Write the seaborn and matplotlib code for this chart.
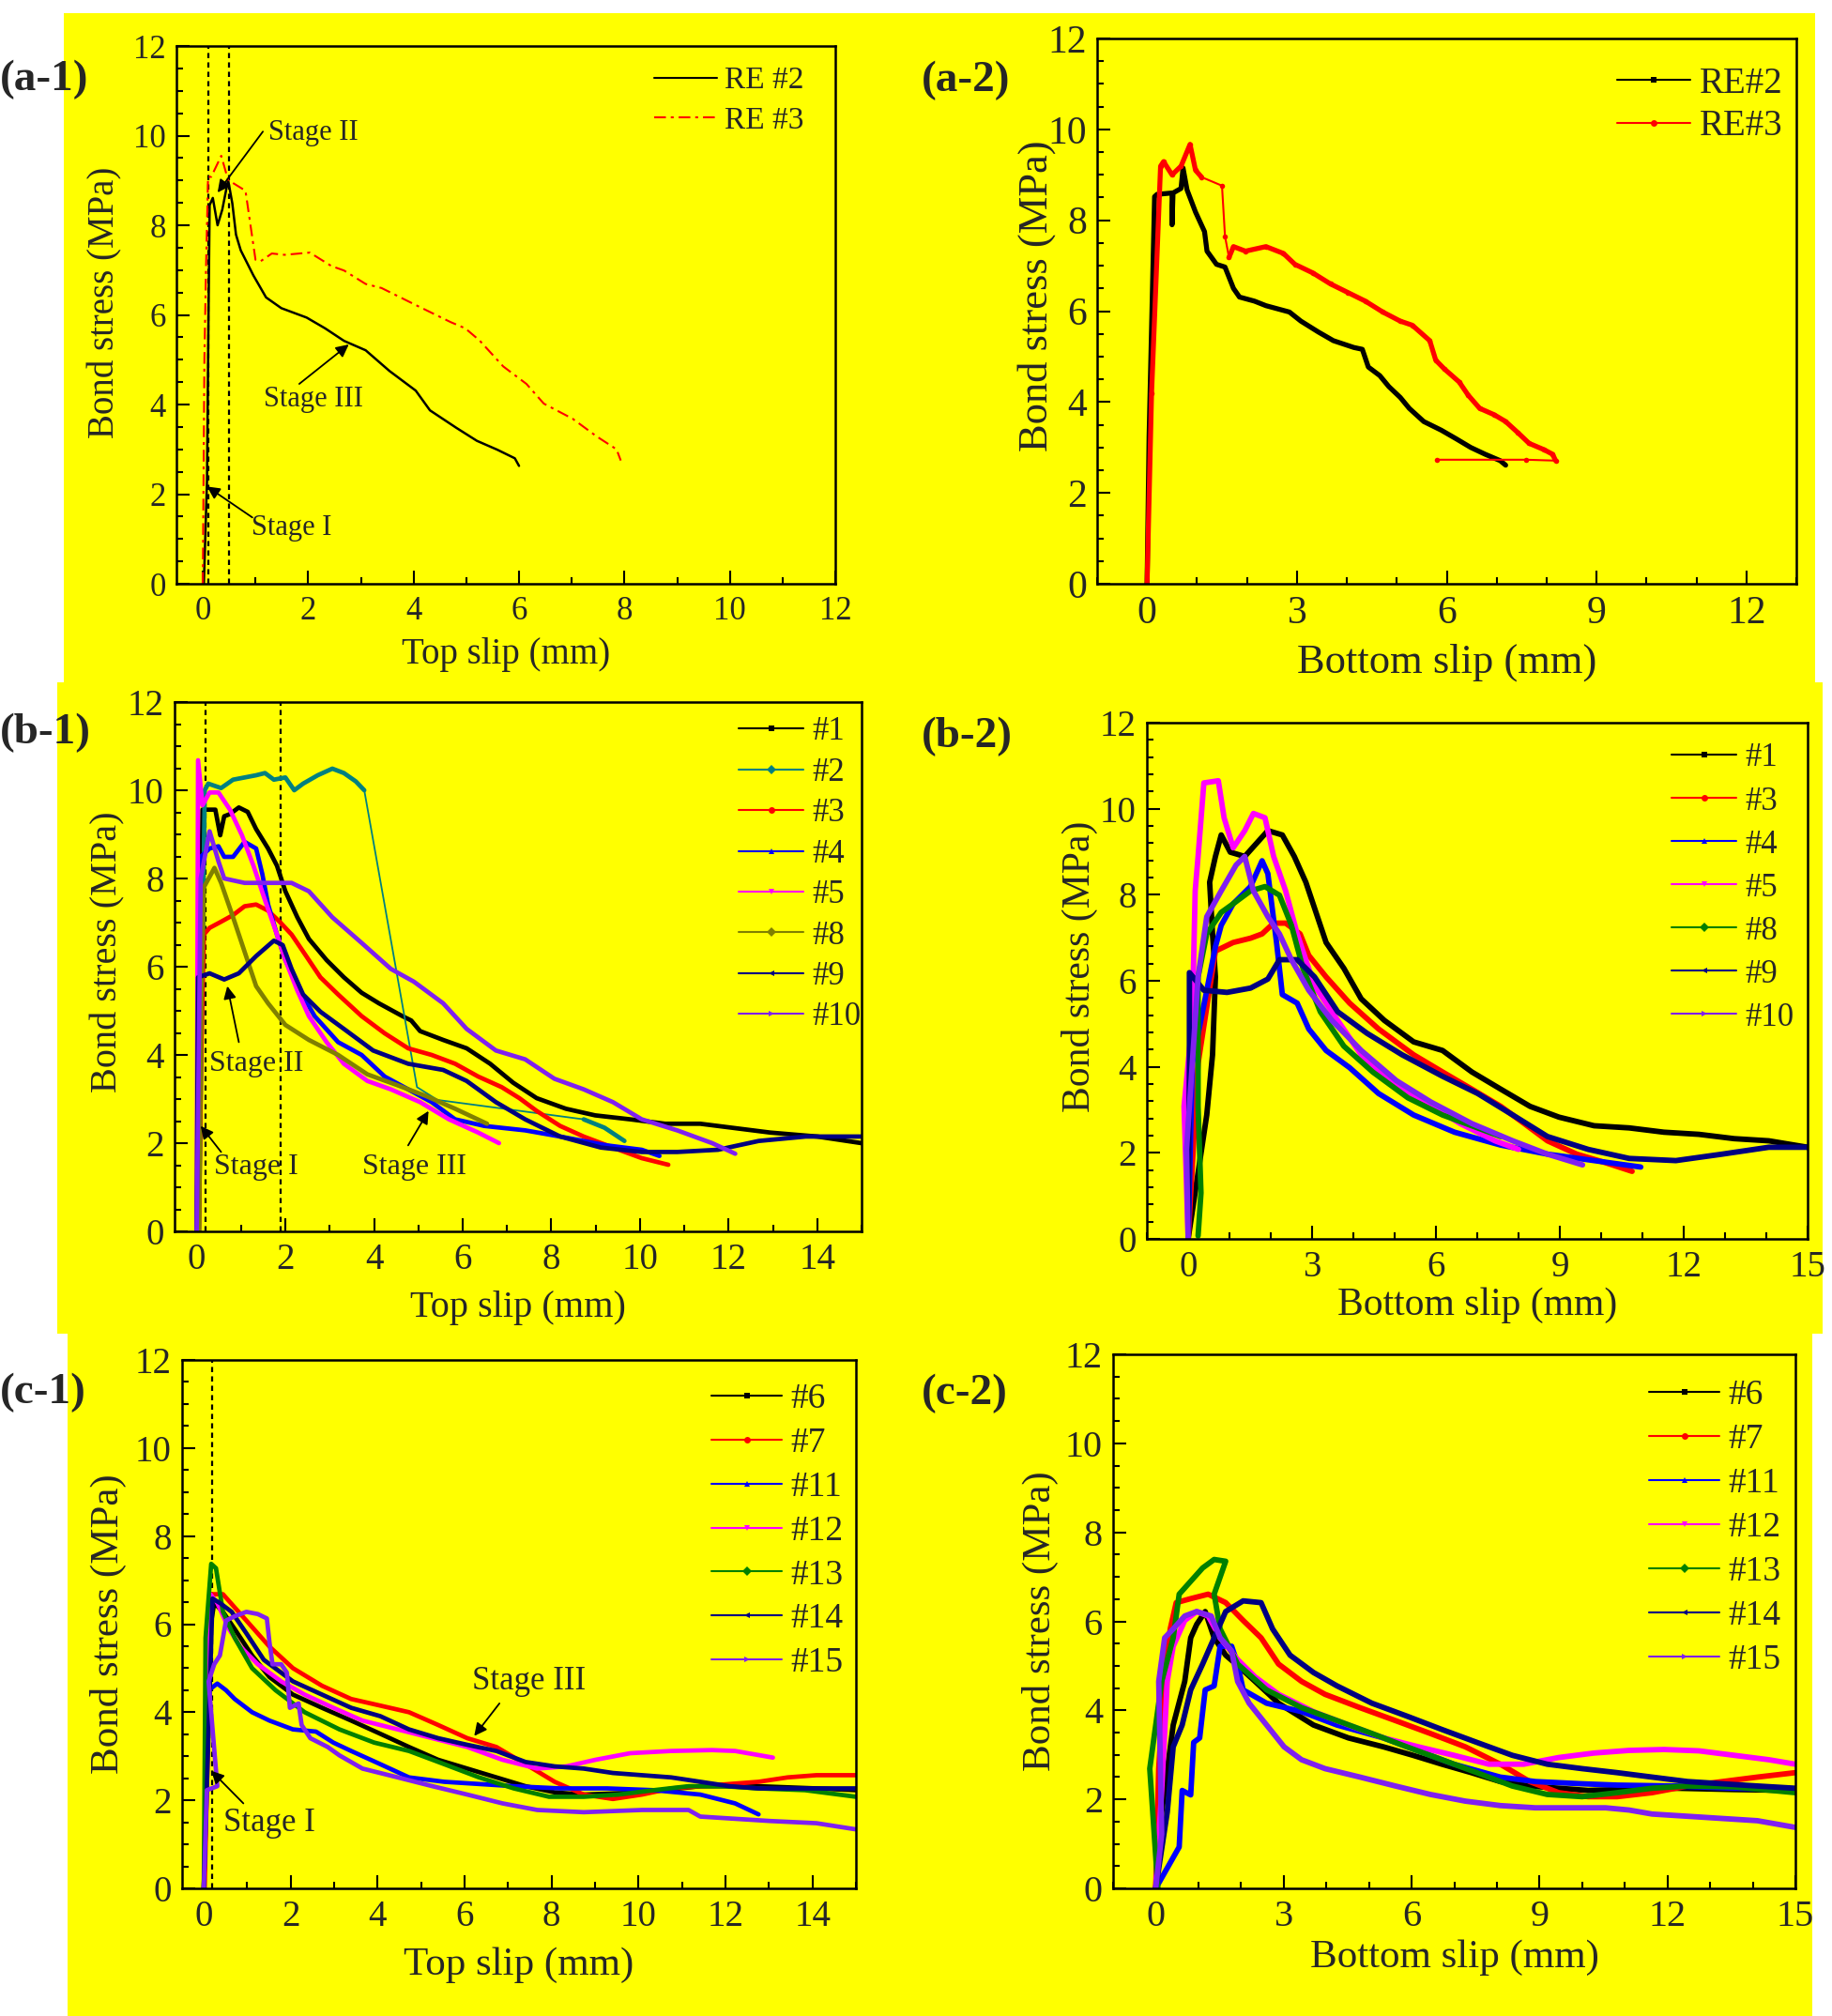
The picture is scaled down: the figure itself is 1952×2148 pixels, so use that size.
import numpy as np
import pandas as pd
import matplotlib
matplotlib.use("Agg")
import matplotlib.pyplot as plt
import seaborn as sns
from matplotlib.lines import Line2D
from matplotlib.patches import Rectangle
from matplotlib.ticker import MultipleLocator

# ---------------- data ----------------
# (a-1) top slip, RE specimens
A1_RE2_X = [0.02, 0.08, 0.11, 0.13, 0.19, 0.28, 0.37, 0.48, 0.56, 0.63, 0.72, 0.96, 1.2, 1.49, 1.97,
            2.32, 2.68, 3.09, 3.54, 4.04, 4.31, 4.81, 5.2, 5.59, 5.92, 6.0]
A1_RE2_Y = [0.0, 2.3, 6.2, 8.45, 8.61, 8.0, 8.35, 9.01, 8.49, 7.79, 7.44, 6.88, 6.39, 6.15, 5.94,
            5.7, 5.42, 5.21, 4.75, 4.31, 3.87, 3.48, 3.19, 2.99, 2.8, 2.63]
A1_RE3_X = [0.0, 0.03, 0.06, 0.1, 0.16, 0.35, 0.48, 0.81, 1.0, 1.1, 1.31, 1.55, 2.03, 2.44, 2.68,
            3.09, 3.39, 4.04, 4.7, 4.98, 5.25, 5.7, 6.14, 6.47, 7.02, 7.47, 7.85, 7.93]
A1_RE3_Y = [0.0, 5.0, 7.0, 9.08, 9.08, 9.55, 9.01, 8.77, 7.23, 7.2, 7.37, 7.34, 7.39, 7.09, 6.99,
            6.69, 6.6, 6.22, 5.84, 5.7, 5.43, 4.85, 4.46, 4.02, 3.68, 3.29, 3.0, 2.75]
A1_STAGES = [0.1, 0.5]
A1_LABELS = ["RE #2", "RE #3"]

# (a-2) bottom slip, RE specimens
A2_RE2_X = [0.0, 0.04, 0.15, 0.2, 0.5, 0.5, 0.52, 0.68, 0.72, 0.8, 0.97, 1.15, 1.2, 1.39, 1.56, 1.73,
            1.85, 2.15, 2.38, 2.85, 3.08, 3.43, 3.73, 4.14, 4.31, 4.43, 4.66, 4.84, 5.07, 5.25, 5.54,
            5.89, 6.19, 6.48, 6.77, 7.07, 7.18]
A2_RE2_Y = [0.0, 3.24, 8.52, 8.57, 8.6, 7.9, 8.6, 8.7, 9.15, 8.67, 8.18, 7.75, 7.32, 7.03, 6.97, 6.5,
            6.31, 6.22, 6.12, 5.98, 5.78, 5.54, 5.35, 5.2, 5.16, 4.77, 4.58, 4.34, 4.1, 3.86, 3.57,
            3.38, 3.19, 3.0, 2.85, 2.71, 2.61]
A2_RE3_X = [0.0, 0.09, 0.27, 0.33, 0.5, 0.68, 0.86, 0.97, 1.09, 1.5, 1.56, 1.64, 1.73, 1.97, 2.38,
            2.73, 2.96, 3.32, 3.67, 4.02, 4.37, 4.72, 5.07, 5.31, 5.66, 5.78, 5.95, 6.25, 6.43, 6.66,
            6.95, 7.18, 7.42, 7.65, 7.95, 8.12, 8.18, 7.59, 5.81]
A2_RE3_Y = [0.0, 4.2, 9.19, 9.29, 9.0, 9.19, 9.67, 9.1, 8.95, 8.76, 7.65, 7.18, 7.42, 7.32, 7.42,
            7.27, 7.03, 6.84, 6.6, 6.41, 6.22, 5.98, 5.78, 5.69, 5.35, 4.92, 4.73, 4.44, 4.15, 3.86,
            3.72, 3.57, 3.33, 3.09, 2.95, 2.85, 2.71, 2.73, 2.73]
A2_LABELS = ["RE#2", "RE#3"]

# (b-1) top slip
B1_1_X = [0.0, 0.13, 0.42, 0.53, 0.62, 0.75, 0.95, 1.15, 1.34, 1.61, 1.81, 2.0, 2.27, 2.53, 2.93, 3.32,
          3.72, 4.11, 4.64, 4.84, 5.04, 5.56, 6.09, 6.62, 7.14, 7.67, 8.33, 8.99, 9.78, 10.57, 11.36,
          12.15, 12.94, 14.0, 15.0]
B1_1_Y = [0.0, 9.56, 9.56, 8.98, 9.41, 9.46, 9.61, 9.51, 9.12, 8.68, 8.29, 7.71, 7.12, 6.63, 6.15, 5.76,
          5.41, 5.17, 4.88, 4.78, 4.54, 4.34, 4.15, 3.8, 3.37, 3.02, 2.78, 2.63, 2.54, 2.44, 2.44,
          2.34, 2.24, 2.15, 2.0]
B1_2_X = [0.05, 0.18, 0.26, 0.55, 0.82, 1.08, 1.34, 1.54, 1.74, 2.0, 2.2, 2.4, 2.73, 3.06, 3.32, 3.59,
          3.78, 4.97, 5.43, 8.73, 9.2, 9.65]
B1_2_Y = [0.0, 10.0, 10.15, 10.05, 10.24, 10.29, 10.34, 10.39, 10.24, 10.29, 10.0, 10.15, 10.34, 10.49,
          10.39, 10.2, 10.0, 3.27, 2.98, 2.54, 2.35, 2.05]
B1_3_X = [0.05, 0.1, 0.16, 0.29, 0.55, 0.82, 1.08, 1.34, 1.61, 1.87, 2.14, 2.47, 2.79, 3.19, 3.72, 4.24,
          4.77, 5.3, 5.83, 6.35, 6.88, 7.28, 7.67, 8.2, 8.73, 9.39, 10.04, 10.64]
B1_3_Y = [0.0, 4.0, 6.73, 6.88, 7.02, 7.17, 7.37, 7.41, 7.27, 7.02, 6.73, 6.24, 5.76, 5.37, 4.88, 4.49,
          4.15, 4.0, 3.8, 3.51, 3.27, 3.02, 2.73, 2.39, 2.15, 1.9, 1.66, 1.51]
B1_4_X = [0.03, 0.06, 0.09, 0.29, 0.49, 0.62, 0.82, 1.08, 1.34, 1.48, 1.61, 1.81, 2.0, 2.27, 2.66, 3.19,
          3.72, 4.24, 4.77, 5.3, 5.83, 6.49, 7.41, 8.2, 9.25, 10.04, 10.44]
B1_4_Y = [0.0, 5.0, 8.49, 8.68, 8.73, 8.49, 8.49, 8.83, 8.68, 8.1, 7.41, 6.73, 6.15, 5.56, 4.88, 4.29,
          4.0, 3.51, 3.22, 2.93, 2.54, 2.39, 2.29, 2.15, 1.95, 1.85, 1.71]
B1_5_X = [0.0, 0.03, 0.13, 0.29, 0.49, 0.75, 1.02, 1.28, 1.54, 1.81, 2.0, 2.27, 2.53, 2.93, 3.32, 3.85,
          4.38, 5.04, 5.69, 6.35, 6.82]
B1_5_Y = [0.0, 10.68, 9.66, 9.95, 9.95, 9.56, 8.98, 8.29, 7.51, 6.73, 6.15, 5.46, 4.88, 4.29, 3.8, 3.41,
          3.22, 2.93, 2.54, 2.24, 2.0]
B1_8_X = [0.05, 0.1, 0.16, 0.4, 0.55, 0.82, 1.08, 1.34, 1.61, 2.0, 2.53, 3.19, 3.85, 4.51, 5.17, 5.83, 6.55]
B1_8_Y = [0.0, 5.0, 7.8, 8.24, 7.9, 7.12, 6.34, 5.56, 5.17, 4.68, 4.34, 4.0, 3.56, 3.32, 3.07, 2.78, 2.44]
B1_9_X = [0.0, 0.03, 0.29, 0.62, 0.95, 1.34, 1.74, 1.94, 2.14, 2.4, 2.79, 3.32, 3.98, 4.77, 5.56, 6.09,
          6.75, 7.41, 8.2, 9.12, 10.04, 10.84, 11.76, 12.68, 13.74, 15.0]
B1_9_Y = [0.0, 5.76, 5.85, 5.71, 5.85, 6.24, 6.59, 6.49, 5.95, 5.37, 4.98, 4.59, 4.1, 3.8, 3.66, 3.41,
          2.93, 2.54, 2.15, 1.9, 1.8, 1.8, 1.85, 2.05, 2.15, 2.15]
B1_10_X = [0.0, 0.09, 0.29, 0.49, 0.62, 1.08, 1.74, 2.14, 2.53, 3.06, 3.72, 4.38, 4.9, 5.56, 6.09, 6.75,
           7.41, 8.07, 8.73, 9.39, 10.04, 10.84, 11.63, 12.15]
B1_10_Y = [0.0, 8.0, 9.07, 8.39, 8.0, 7.9, 7.9, 7.9, 7.71, 7.12, 6.54, 5.95, 5.66, 5.17, 4.59, 4.1,
           3.9, 3.46, 3.22, 2.93, 2.54, 2.29, 2.0, 1.76]
B1_STAGES = [0.2, 1.9]
B1_LABELS = ["#1", "#2", "#3", "#4", "#5", "#8", "#9", "#10"]

# (b-2) bottom slip
B2_1_X = [0.0, 0.45, 0.59, 0.66, 0.59, 0.52, 0.66, 0.8, 1.02, 1.37, 1.65, 1.93, 2.28, 2.57, 2.85, 3.06,
          3.34, 3.77, 4.19, 4.75, 5.46, 6.16, 6.87, 7.57, 8.28, 8.98, 9.83, 10.68, 11.52, 12.37, 13.22,
          14.06, 15.0]
B2_1_Y = [0.0, 2.88, 4.28, 6.09, 7.09, 8.29, 8.89, 9.39, 8.99, 8.89, 9.19, 9.49, 9.39, 8.89, 8.29, 7.69,
          6.89, 6.29, 5.58, 5.08, 4.58, 4.38, 3.88, 3.48, 3.08, 2.83, 2.63, 2.58, 2.48, 2.43, 2.33,
          2.28, 2.13]
B2_3_X = [0.0, 0.24, 0.66, 1.09, 1.51, 1.79, 2.07, 2.36, 2.71, 2.92, 3.34, 3.91, 4.61, 5.46, 6.16, 6.87,
          7.57, 8.14, 8.7, 9.41, 10.11, 10.75]
B2_3_Y = [0.0, 4.08, 6.69, 6.89, 6.99, 7.09, 7.34, 7.34, 7.09, 6.59, 6.09, 5.48, 4.88, 4.28, 3.88, 3.48,
          3.08, 2.68, 2.28, 1.97, 1.77, 1.57]
B2_4_X = [0.0, 0.1, 0.66, 0.8, 1.09, 1.51, 1.79, 1.93, 2.14, 2.28, 2.64, 2.92, 3.34, 3.91, 4.61, 5.46,
          6.45, 7.57, 8.7, 9.83, 10.96]
B2_4_Y = [0.0, 4.08, 6.79, 7.29, 7.79, 8.19, 8.79, 8.49, 6.89, 5.68, 5.48, 4.88, 4.38, 3.98, 3.38, 2.88,
          2.48, 2.18, 1.97, 1.82, 1.67]
B2_5_X = [0.0, -0.1, 0.1, 0.17, 0.24, 0.38, 0.73, 0.87, 1.09, 1.37, 1.58, 1.86, 2.07, 2.36, 2.64, 3.06,
          3.62, 4.19, 4.89, 5.74, 6.59, 7.43, 8.0]
B2_5_Y = [0.0, 3.08, 5.08, 8.09, 8.89, 10.6, 10.65, 9.79, 9.09, 9.49, 9.89, 9.79, 8.89, 8.09, 7.09, 5.88,
          5.08, 4.28, 3.68, 3.18, 2.68, 2.28, 2.08]
B2_8_X = [0.24, 0.31, 0.24, 0.24, 0.45, 0.8, 1.09, 1.51, 1.86, 2.21, 2.5, 2.78, 3.2, 3.77, 4.47, 5.32,
          6.16, 7.01, 7.57]
B2_8_Y = [0.07, 1.07, 3.08, 6.09, 7.09, 7.59, 7.79, 8.09, 8.19, 7.99, 7.29, 6.29, 5.28, 4.48, 3.88, 3.28,
          2.88, 2.58, 2.38]
B2_9_X = [0.0, 0.03, 0.03, 0.38, 0.94, 1.51, 1.93, 2.21, 2.64, 3.06, 3.62, 4.33, 5.18, 6.16, 7.01, 7.86,
          8.7, 9.69, 10.68, 11.81, 12.93, 14.06, 15.0]
B2_9_Y = [0.0, 4.08, 6.19, 5.78, 5.73, 5.83, 6.04, 6.49, 6.49, 6.09, 5.28, 4.78, 4.28, 3.78, 3.38, 2.88,
          2.38, 2.08, 1.87, 1.82, 1.97, 2.13, 2.13]
B2_10_X = [0.0, -0.04, 0.1, 0.24, 0.45, 0.8, 1.16, 1.37, 1.58, 1.93, 2.21, 2.5, 2.92, 3.48, 4.19, 5.04,
           5.88, 6.87, 7.86, 8.7, 9.55]
B2_10_Y = [0.0, 2.08, 4.08, 6.09, 7.49, 8.09, 8.69, 8.89, 8.09, 7.49, 7.09, 6.49, 5.78, 5.08, 4.38, 3.68,
           3.18, 2.68, 2.28, 1.97, 1.72]
B2_LABELS = ["#1", "#3", "#4", "#5", "#8", "#9", "#10"]

# (c-1) top slip
C1_6_X = [0.0, 0.11, 0.24, 0.44, 0.71, 1.11, 1.51, 2.05, 2.72, 3.39, 4.06, 4.72, 5.39, 6.06, 6.73, 7.4,
          8.07, 8.74, 10.08, 11.42, 12.76, 14.09, 15.0]
C1_6_Y = [0.0, 5.69, 6.48, 6.28, 5.89, 5.29, 4.8, 4.4, 4.1, 3.81, 3.51, 3.21, 2.92, 2.72, 2.52, 2.32,
          2.18, 2.13, 2.18, 2.32, 2.32, 2.27, 2.23]
C1_7_X = [0.02, 0.17, 0.44, 0.98, 1.51, 2.05, 2.72, 3.39, 4.06, 4.72, 5.39, 6.06, 6.73, 7.4, 8.07, 8.74,
          9.41, 10.08, 10.75, 11.42, 12.09, 12.76, 13.43, 14.09, 15.0]
C1_7_Y = [0.0, 6.68, 6.68, 6.08, 5.49, 5.0, 4.6, 4.3, 4.15, 4.0, 3.71, 3.41, 3.21, 2.82, 2.42, 2.13,
          2.03, 2.13, 2.27, 2.32, 2.37, 2.42, 2.52, 2.57, 2.57]
C1_11_X = [0.0, 0.11, 0.31, 0.51, 0.71, 1.11, 1.51, 2.05, 2.58, 2.98, 3.39, 4.06, 4.72, 5.53, 6.33, 7.13,
           8.2, 9.28, 10.35, 11.42, 12.22, 12.76]
C1_11_Y = [0.0, 4.5, 4.65, 4.5, 4.3, 4.0, 3.81, 3.61, 3.56, 3.31, 3.12, 2.82, 2.52, 2.42, 2.37, 2.32,
           2.27, 2.27, 2.23, 2.13, 1.93, 1.68]
C1_12_X = [0.0, 0.15, 0.31, 0.58, 0.84, 1.24, 1.78, 2.32, 2.98, 3.65, 4.46, 5.26, 6.06, 6.87, 7.67, 8.34,
           9.01, 9.81, 10.75, 11.69, 12.22, 13.09]
C1_12_Y = [0.0, 6.68, 6.48, 5.89, 5.49, 5.09, 4.7, 4.4, 4.1, 3.81, 3.61, 3.41, 3.21, 2.92, 2.72, 2.77,
           2.92, 3.07, 3.12, 3.14, 3.12, 2.97]
C1_13_X = [0.0, 0.04, 0.17, 0.28, 0.44, 0.71, 1.11, 1.65, 2.32, 3.12, 3.92, 4.72, 5.53, 6.33, 7.13, 7.94,
           8.74, 9.54, 10.35, 11.15, 11.95, 12.76, 13.83, 15.0]
C1_13_Y = [0.0, 5.69, 7.37, 7.27, 6.28, 5.69, 5.0, 4.5, 4.0, 3.61, 3.31, 3.12, 2.82, 2.52, 2.27, 2.08,
           2.08, 2.13, 2.23, 2.32, 2.32, 2.27, 2.23, 2.08]
C1_14_X = [0.0, 0.2, 0.37, 0.64, 0.98, 1.38, 2.05, 2.72, 3.39, 4.06, 4.72, 5.39, 6.06, 6.73, 7.4, 8.07,
           8.74, 9.41, 10.08, 10.75, 11.42, 12.09, 12.76, 14.09, 15.0]
C1_14_Y = [0.0, 6.58, 6.48, 6.28, 5.79, 5.19, 4.7, 4.4, 4.1, 3.91, 3.61, 3.41, 3.26, 3.12, 2.87, 2.77,
           2.72, 2.62, 2.57, 2.52, 2.42, 2.32, 2.27, 2.27, 2.27]
C1_15_X = [0.0, 0.07, 0.31, 0.11, 0.24, 0.37, 0.51, 0.71, 0.98, 1.24, 1.45, 1.51, 1.58, 1.78, 1.91, 1.98,
           2.18, 2.25, 2.45, 2.85, 3.12, 3.65, 4.46, 5.26, 6.06, 6.87, 7.67, 8.74, 10.08, 11.15, 11.42,
           12.22, 13.02, 14.09, 15.0]
C1_15_Y = [0.0, 2.23, 2.32, 4.7, 5.09, 5.29, 6.08, 6.18, 6.28, 6.23, 6.13, 5.59, 5.09, 5.09, 4.9, 4.1,
           4.2, 3.71, 3.41, 3.21, 3.02, 2.72, 2.52, 2.32, 2.13, 1.93, 1.78, 1.73, 1.78, 1.78, 1.63,
           1.58, 1.53, 1.48, 1.34]
C1_STAGES = [0.2]
C_LABELS = ["#6", "#7", "#11", "#12", "#13", "#14", "#15"]

# (c-2) bottom slip
C2_6_X = [0.0, 0.14, 0.41, 0.68, 0.82, 0.96, 1.16, 1.37, 1.64, 1.99, 2.33, 2.88, 3.7, 4.52, 5.34, 6.03,
          6.71, 7.4, 8.08, 8.77, 9.45, 10.14, 10.82, 12.19, 13.56, 15.0]
C2_6_Y = [0.0, 1.71, 3.67, 4.65, 5.63, 5.93, 6.22, 5.63, 5.24, 4.95, 4.65, 4.16, 3.67, 3.38, 3.18, 2.99,
          2.79, 2.6, 2.4, 2.3, 2.25, 2.2, 2.22, 2.25, 2.22, 2.2]
C2_7_X = [0.0, 0.07, 0.21, 0.34, 0.48, 0.82, 1.23, 1.64, 2.05, 2.47, 2.88, 3.42, 3.97, 4.79, 5.62, 6.44,
          7.26, 8.08, 8.77, 9.45, 10.14, 10.82, 11.64, 12.47, 13.29, 14.11, 15.0]
C2_7_Y = [0.0, 2.69, 4.85, 5.83, 6.42, 6.51, 6.61, 6.42, 6.02, 5.63, 5.04, 4.65, 4.36, 4.06, 3.77, 3.48,
          3.18, 2.79, 2.4, 2.15, 2.06, 2.06, 2.15, 2.3, 2.4, 2.5, 2.6]
C2_11_X = [0.0, 0.55, 0.62, 0.82, 0.89, 1.03, 1.16, 1.37, 1.51, 1.78, 1.92, 2.05, 2.6, 3.42, 4.25, 5.34,
           6.16, 6.99, 8.08, 8.9, 10.0, 10.82, 12.19, 13.56, 15.0]
C2_11_Y = [0.0, 0.93, 2.2, 2.1, 3.28, 3.38, 4.46, 4.55, 5.44, 5.44, 5.04, 4.46, 4.16, 3.97, 3.67, 3.38,
           3.09, 2.79, 2.5, 2.4, 2.35, 2.32, 2.3, 2.25, 2.22]
C2_12_X = [0.0, 0.14, 0.27, 0.41, 0.68, 0.96, 1.23, 1.51, 1.92, 2.33, 2.88, 3.7, 4.52, 5.34, 6.16, 6.99,
           7.81, 8.63, 9.45, 10.27, 11.1, 11.92, 12.74, 13.56, 14.38, 15.0]
C2_12_Y = [0.0, 2.2, 4.65, 5.44, 6.02, 6.22, 6.12, 5.63, 5.14, 4.75, 4.36, 3.97, 3.67, 3.38, 3.18, 2.99,
           2.79, 2.79, 2.94, 3.04, 3.1, 3.12, 3.09, 2.99, 2.89, 2.79]
C2_13_X = [0.05, -0.07, -0.14, 0.0, 0.14, 0.41, 0.55, 0.82, 1.1, 1.37, 1.64, 1.37, 1.51, 1.92, 2.6, 3.42,
           4.25, 5.07, 5.89, 6.71, 7.53, 8.36, 9.18, 10.0, 10.82, 11.64, 12.47, 13.56, 15.0]
C2_13_Y = [0.0, 1.71, 2.69, 3.67, 4.65, 5.63, 6.61, 6.9, 7.2, 7.39, 7.35, 6.61, 5.83, 5.04, 4.46, 4.06,
           3.77, 3.48, 3.18, 2.89, 2.6, 2.3, 2.11, 2.06, 2.15, 2.25, 2.3, 2.28, 2.15]
C2_14_X = [0.0, 0.27, 0.41, 0.62, 0.82, 1.1, 1.37, 1.64, 2.05, 2.47, 2.74, 3.15, 3.7, 4.25, 5.07, 5.89,
           6.71, 7.53, 8.36, 9.18, 10.0, 10.82, 11.64, 12.47, 13.29, 14.11, 15.0]
C2_14_Y = [0.0, 1.71, 3.18, 3.67, 4.46, 5.04, 5.63, 6.22, 6.46, 6.42, 5.83, 5.24, 4.85, 4.55, 4.16, 3.87,
           3.57, 3.28, 2.99, 2.79, 2.69, 2.6, 2.5, 2.4, 2.35, 2.3, 2.25]
C2_15_X = [0.0, 0.14, 0.07, 0.21, 0.41, 0.68, 0.96, 1.3, 1.51, 1.78, 1.92, 2.19, 2.6, 3.01, 3.42, 3.97,
           4.79, 5.62, 6.44, 7.26, 8.08, 8.9, 9.73, 10.55, 11.1, 11.64, 12.47, 13.29, 14.11, 15.0]
C2_15_Y = [0.0, 1.22, 4.65, 5.63, 5.83, 6.12, 6.22, 6.12, 5.63, 5.34, 4.65, 4.16, 3.67, 3.18, 2.89, 2.69,
           2.5, 2.3, 2.11, 1.96, 1.86, 1.81, 1.81, 1.81, 1.76, 1.67, 1.62, 1.57, 1.52, 1.37]

# ---------------- styles ----------------
YELLOW = "#FFFF00"
BLACK, RED, BLUE, MAGENTA = "#000000", "#FF0000", "#0000FF", "#FF00FF"
OLIVE, NAVY, VIOLET, TEAL, GREEN = "#808000", "#000080", "#8020F0", "#008080", "#008000"

W, H = 1952, 2148

sns.set_style("ticks")
plt.rcParams["font.family"] = ["Liberation Serif", "DejaVu Serif"]

fig = plt.figure(figsize=(W / 100, H / 100), dpi=100)
fig.patch.set_facecolor("white")

# yellow backing sheets of the three rows
for l, r, t, b in [(68, 1934, 14, 728), (61, 1942, 727, 1421), (72, 1931, 1420, 2148)]:
    fig.patches.append(Rectangle((l / W, 1 - b / H), (r - l) / W, (b - t) / H, transform=fig.transFigure,
                                 facecolor=YELLOW, edgecolor="none", zorder=-5))


def make_axes(l, r, t, b):
    ax = fig.add_axes([l / W, 1 - b / H, (r - l) / W, (b - t) / H])
    ax.set_facecolor(YELLOW)
    return ax


def curve(ax, xs, ys, color, lw, **kws):
    df = pd.DataFrame({"slip": xs, "stress": ys})
    sns.lineplot(data=df, x="slip", y="stress", ax=ax, color=color, linewidth=lw,
                 sort=False, estimator=None, legend=False, **kws)


def style_axes(ax, box, xlim, xmajor, yminor, tick_fs, label_fs, xlabel, xlab_y, ylab_x, ylab_y):
    l, r, t, b = box
    ax.set_xlim(*xlim)
    ax.set_ylim(0, 12)
    ax.xaxis.set_major_locator(MultipleLocator(xmajor))
    ax.xaxis.set_minor_locator(MultipleLocator(1))
    ax.yaxis.set_major_locator(MultipleLocator(2))
    ax.yaxis.set_minor_locator(MultipleLocator(yminor))
    ax.tick_params(which="both", direction="in", top=False, right=False, width=1.5, color="k")
    ax.tick_params(which="major", length=10)
    ax.tick_params(which="minor", length=5)
    ax.tick_params(axis="x", labelsize=tick_fs, pad=9)
    ax.tick_params(axis="y", labelsize=tick_fs, pad=8)
    for sp in ax.spines.values():
        sp.set_linewidth(1.8)
        sp.set_color("k")
        sp.set_visible(True)
    ax.set_xlabel(xlabel, fontsize=label_fs, va="center")
    ax.set_ylabel("Bond stress (MPa)", fontsize=label_fs, va="center")
    ax.xaxis.set_label_coords(0.5, (b - xlab_y) / (b - t))
    ax.yaxis.set_label_coords((ylab_x - l) / (r - l), (b - ylab_y) / (b - t))


def add_legend(ax, labels, colors, markers, fs, x_px, row1_px, spacing, lss=None, ms=5):
    if lss is None:
        lss = ["-"] * len(labels)
    handles = [Line2D([], [], color=c, lw=1.5, marker=m, markersize=ms, ls=s, markeredgewidth=0)
               for c, m, s in zip(colors, markers, lss)]
    top = row1_px - 0.36 * fs * 100 / 72
    ax.legend(handles, labels, loc="upper left", bbox_to_anchor=(x_px / W, 1 - top / H),
              bbox_transform=fig.transFigure, frameon=False, fontsize=fs, borderpad=0,
              borderaxespad=0, handlelength=2.0, handletextpad=0.25, labelspacing=spacing,
              numpoints=1)


def stage(ax, text, center, tail, head, fs):
    ax.annotate("", xy=head, xytext=tail,
                arrowprops=dict(arrowstyle="-|>", color="k", lw=1.3, mutation_scale=20,
                                shrinkA=0, shrinkB=0))
    ax.text(center[0], center[1], text, fontsize=fs, ha="center", va="center")


def stage_lines(ax, xs):
    for x in xs:
        ax.axvline(x, color="k", lw=1.6, ls=(0, (2.5, 2)), zorder=1)


def panel_label(text, x_px, y_px):
    fig.text(x_px / W, 1 - y_px / H, text, fontsize=34, fontweight="bold", ha="left", va="center")


# ---------------- (a-1) ----------------
box = (188, 890, 49, 622)
ax = make_axes(*box)
stage_lines(ax, A1_STAGES)
curve(ax, A1_RE2_X, A1_RE2_Y, BLACK, 1.8)
curve(ax, A1_RE3_X, A1_RE3_Y, RED, 1.5, linestyle=(0, (6, 2.5, 1.5, 2.5)))
style_axes(ax, box, (-0.5, 12), 2, 0.5, 25, 28, "Top slip (mm)", 697, 112, 322)
stage(ax, "Stage II", (2.1, 10.06), (1.14, 10.09), (0.28, 8.73), 22)
stage(ax, "Stage III", (2.1, 4.12), (1.83, 4.46), (2.77, 5.34), 22)
stage(ax, "Stage I", (1.68, 1.24), (0.94, 1.48), (0.08, 2.17), 22)
add_legend(ax, A1_LABELS, [BLACK, RED], ["", ""], 24, 697, 83, 0.36,
           lss=["-", (0, (6, 2.5, 1.5, 2.5))])
panel_label("(a-1)", 0, 85)

# ---------------- (a-2) ----------------
box = (1169, 1914, 41, 622)
ax = make_axes(*box)
curve(ax, A2_RE2_X, A2_RE2_Y, BLACK, 3.8)
curve(ax, A2_RE3_X, A2_RE3_Y, RED, 1.5, marker="o", markersize=4, markeredgewidth=0)
curve(ax, A2_RE3_X[:9], A2_RE3_Y[:9], RED, 3.8)
curve(ax, A2_RE3_X[11:37], A2_RE3_Y[11:37], RED, 3.8)
style_axes(ax, box, (-1, 13), 3, 0.5, 30, 32, "Bottom slip (mm)", 706, 1105, 315)
add_legend(ax, A2_LABELS, [BLACK, RED], ["s", "o"], 28, 1723, 85, 0.21)
panel_label("(a-2)", 982, 86)

# ---------------- (b-1) ----------------
B1_SERIES = [(B1_1_X, B1_1_Y), (B1_2_X, B1_2_Y), (B1_3_X, B1_3_Y), (B1_4_X, B1_4_Y),
             (B1_5_X, B1_5_Y), (B1_8_X, B1_8_Y), (B1_9_X, B1_9_Y), (B1_10_X, B1_10_Y)]
B1_COLORS = [BLACK, TEAL, RED, BLUE, MAGENTA, OLIVE, NAVY, VIOLET]
B1_MARKERS = ["s", "D", "o", "^", "v", "D", "<", ">"]
box = (186, 918, 748, 1312)
ax = make_axes(*box)
stage_lines(ax, B1_STAGES)
for (xs, ys), c in zip(B1_SERIES, B1_COLORS):
    if c == TEAL:
        curve(ax, xs, ys, c, 1.3)
        curve(ax, xs[:17], ys[:17], c, 3.4)
        curve(ax, xs[19:], ys[19:], c, 3.4)
    else:
        curve(ax, xs, ys, c, 3.4)
style_axes(ax, box, (-0.5, 15), 2, 0.5, 28, 29, "Top slip (mm)", 1394, 115, 1014)
stage(ax, "Stage II", (1.34, 3.8), (0.95, 4.29), (0.69, 5.56), 23)
stage(ax, "Stage I", (1.34, 1.46), (0.55, 1.8), (0.09, 2.39), 23)
stage(ax, "Stage III", (4.9, 1.46), (4.77, 1.95), (5.23, 2.73), 23)
add_legend(ax, B1_LABELS, B1_COLORS, B1_MARKERS, 25, 787, 776, 0.3)
panel_label("(b-1)", 0, 781)

# ---------------- (b-2) ----------------
B2_SERIES = [(B2_1_X, B2_1_Y), (B2_3_X, B2_3_Y), (B2_4_X, B2_4_Y), (B2_5_X, B2_5_Y),
             (B2_8_X, B2_8_Y), (B2_9_X, B2_9_Y), (B2_10_X, B2_10_Y)]
B2_COLORS = [BLACK, RED, BLUE, MAGENTA, GREEN, NAVY, VIOLET]
B2_MARKERS = ["s", "o", "^", "v", "D", "<", ">"]
box = (1222, 1926, 770, 1320)
ax = make_axes(*box)
for (xs, ys), c in zip(B2_SERIES, B2_COLORS):
    curve(ax, xs, ys, c, 4.2)
style_axes(ax, box, (-1, 15), 3, 0.4, 28, 30, "Bottom slip (mm)", 1391, 1150, 1030)
add_legend(ax, B2_LABELS, B2_COLORS, B2_MARKERS, 25, 1781, 804, 0.375)
panel_label("(b-2)", 982, 785)

# ---------------- (c-1) ----------------
C1_SERIES = [(C1_6_X, C1_6_Y), (C1_7_X, C1_7_Y), (C1_11_X, C1_11_Y), (C1_12_X, C1_12_Y),
             (C1_13_X, C1_13_Y), (C1_14_X, C1_14_Y), (C1_15_X, C1_15_Y)]
C_COLORS = [BLACK, RED, BLUE, MAGENTA, GREEN, NAVY, VIOLET]
C_MARKERS = ["s", "o", "^", "v", "D", "<", ">"]
box = (194, 912, 1449, 2012)
ax = make_axes(*box)
stage_lines(ax, C1_STAGES)
for (xs, ys), c in zip(C1_SERIES, C_COLORS):
    curve(ax, xs, ys, c, 3.4)
style_axes(ax, box, (-0.5, 15), 2, 0.5, 28, 31, "Top slip (mm)", 2094, 115, 1730)
stage(ax, "Stage III", (7.47, 4.7), (6.8, 4.2), (6.22, 3.46), 25)
stage(ax, "Stage I", (1.51, 1.48), (0.91, 1.93), (0.17, 2.67), 25)
add_legend(ax, C_LABELS, C_COLORS, C_MARKERS, 27, 758, 1487, 0.33)
panel_label("(c-1)", 0, 1484)

# ---------------- (c-2) ----------------
C2_SERIES = [(C2_6_X, C2_6_Y), (C2_7_X, C2_7_Y), (C2_11_X, C2_11_Y), (C2_12_X, C2_12_Y),
             (C2_13_X, C2_13_Y), (C2_14_X, C2_14_Y), (C2_15_X, C2_15_Y)]
box = (1186, 1913, 1443, 2012)
ax = make_axes(*box)
for (xs, ys), c in zip(C2_SERIES, C_COLORS):
    curve(ax, xs, ys, c, 4.2)
style_axes(ax, box, (-1, 15), 3, 0.5, 29, 31, "Bottom slip (mm)", 2086, 1108, 1727)
add_legend(ax, C_LABELS, C_COLORS, C_MARKERS, 27, 1757, 1483, 0.335)
panel_label("(c-2)", 982, 1485)

fig.savefig("out.png", dpi=100, facecolor="white")
